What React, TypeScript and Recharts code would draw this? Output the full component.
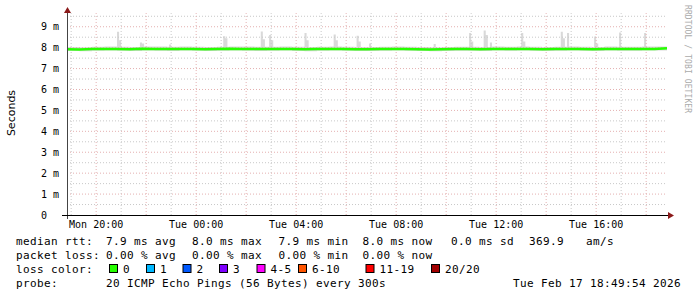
import { ComposedChart, Area, Line, XAxis, YAxis, ReferenceLine } from 'recharts'

// minutes since Mon 18:50, 30 min steps (0..1440)
const medianRtt = [
  7.92, 7.91, 7.93, 7.94, 7.93, 7.92, 7.95, 7.94, 7.93, 7.94, 7.93, 7.92, 7.93,
  7.95, 7.94, 7.93, 7.93, 7.94, 7.93, 7.92, 7.93, 7.94, 7.93, 7.92, 7.92, 7.93,
  7.94, 7.93, 7.92, 7.91, 7.92, 7.93, 7.93, 7.92, 7.94, 7.93, 7.94, 7.93, 7.92,
  7.93, 7.94, 7.93, 7.92, 7.94, 7.93, 7.93, 7.94, 7.94, 7.97,
]
const smokeLow = [
  7.84, 7.83, 7.85, 7.86, 7.85, 7.84, 7.86, 7.85, 7.84, 7.86, 7.85, 7.84, 7.85,
  7.86, 7.85, 7.84, 7.85, 7.86, 7.84, 7.83, 7.85, 7.86, 7.85, 7.84, 7.84, 7.85,
  7.86, 7.85, 7.84, 7.83, 7.84, 7.85, 7.85, 7.84, 7.86, 7.85, 7.86, 7.85, 7.84,
  7.85, 7.86, 7.85, 7.84, 7.86, 7.85, 7.85, 7.86, 7.86, 7.88,
]
const smokeHigh = [
  8.03, 8.02, 8.04, 8.05, 8.04, 8.03, 8.06, 8.05, 8.04, 8.05, 8.04, 8.03, 8.04,
  8.06, 8.05, 8.04, 8.04, 8.05, 8.04, 8.03, 8.04, 8.05, 8.04, 8.03, 8.03, 8.04,
  8.05, 8.04, 8.03, 8.02, 8.03, 8.04, 8.04, 8.03, 8.05, 8.04, 8.05, 8.04, 8.03,
  8.04, 8.05, 8.04, 8.03, 8.05, 8.04, 8.04, 8.05, 8.05, 8.08,
]
// single 5-minute smoke spikes (minute since start, top value in ms)
const spikeTimes = [
  120, 125, 175, 180, 245, 375, 380, 465, 470, 485, 490, 570, 575, 640, 645,
  695, 700, 725, 880, 965, 970, 1000, 1005, 1015, 1090, 1095, 1185, 1190, 1200,
  1265, 1270, 1325, 1385, 1425,
]
const spikeTops = [
  8.76, 8.35, 8.25, 8.2, 8.15, 8.55, 8.45, 8.77, 8.4, 8.6, 8.35, 8.7, 8.35, 8.63, 8.35,
  8.57, 8.3, 8.2, 8.17, 8.7, 8.3, 8.82, 8.6, 8.25, 8.7, 8.3, 8.76, 8.45, 8.7,
  8.53, 8.2, 8.72, 8.7, 8.06,
]
const timeTicks = [70, 310, 550, 790, 1030, 1270]
const timeLabels = ['Mon 20:00', 'Tue 00:00', 'Tue 04:00', 'Tue 08:00', 'Tue 12:00', 'Tue 16:00']
const rttTicks = [0, 1, 2, 3, 4, 5, 6, 7, 8, 9]

const lossLabels = ['0', '1', '2', '3', '4-5', '6-10', '11-19', '20/20']
const lossColors = ['#26ff00', '#00b8ff', '#0059ff', '#7e00ff', '#ff00ff', '#ff5500', '#ff0000', '#a10000']

const spikeMap = new Map(spikeTimes.map((t, i) => [t, spikeTops[i]]))
const rows: { t: number; smoke: [number, number]; rtt?: number }[] = []
for (let t = 0; t <= 1440; t += 5) {
  const k = Math.floor(t / 30)
  const hi = spikeMap.get(t) ?? smokeHigh[k]
  rows.push({ t, smoke: [smokeLow[k], hi], rtt: t % 30 === 0 ? medianRtt[k] : undefined })
}

const minorY = Array.from({ length: 19 }, (_, i) => (i + 1) * 0.5).filter((v) => v % 1 !== 0)
const majorY = rttTicks.slice(1)
const hourLines = Array.from({ length: 24 }, (_, i) => 10 + i * 60)

const mono = '"DejaVu Sans Mono", monospace'
const W = 697
const H = 297

function YTick({ x, y, payload }: any) {
  const v = payload.value
  return (
    <text x={x - 19} y={y + 3.5} fontFamily={mono} fontSize={10} fill="#000">
      {v === 0 ? '0' : `${v} m`}
    </text>
  )
}

function XTick({ x, y, payload }: any) {
  const i = timeTicks.indexOf(payload.value)
  return (
    <text x={x} y={y + 13} textAnchor="middle" fontFamily={mono} fontSize={10} fill="#000">
      {timeLabels[i]}
    </text>
  )
}

const legendText = { fontFamily: mono, fontSize: 11, letterSpacing: 0.38, fill: '#000' }

export default function App() {
  return (
    <div style={{ position: 'absolute', left: 0, top: 0, width: W, height: H, background: '#fff' }}>
      <ComposedChart width={W} height={H} data={rows} margin={{ top: 10, right: 30, bottom: 66, left: 0 }}>
        <XAxis
          type="number"
          dataKey="t"
          domain={[0, 1440]}
          ticks={timeTicks}
          tick={<XTick />}
          tickLine={false}
          tickSize={0}
          tickMargin={0}
          height={16}
          axisLine={false}
          interval={0}
        />
        <YAxis
          type="number"
          domain={[0, 9.8]}
          ticks={rttTicks}
          tick={<YTick />}
          tickLine={false}
          tickSize={0}
          tickMargin={7}
          width={67}
          axisLine={false}
          interval={0}
          allowDataOverflow
        />
        {minorY.map((v) => (
          <ReferenceLine key={'my' + v} y={v} stroke="#c8c8c8" strokeDasharray="1 2" />
        ))}
        {hourLines.map((t, i) => (
          <ReferenceLine
            key={'h' + t}
            segment={[
              { x: t, y: 0 },
              { x: t, y: 9.65 },
            ]}
            stroke={i % 2 === 1 ? '#e4b0b0' : '#c8c8c8'}
            strokeDasharray="1 2"
          />
        ))}
        {majorY.map((v) => (
          <ReferenceLine key={'My' + v} y={v} stroke="#e4b0b0" strokeDasharray="1 2" />
        ))}
        <Area
          dataKey="smoke"
          type="stepAfter"
          fill="#d9d9d9"
          fillOpacity={1}
          stroke="none"
          isAnimationActive={false}
        />
        <Line
          dataKey="rtt"
          type="linear"
          stroke="#26ff00"
          strokeWidth={2.5}
          dot={false}
          connectNulls
          isAnimationActive={false}
        />
      </ComposedChart>
      <svg width={W} height={H} style={{ position: 'absolute', left: 0, top: 0, pointerEvents: 'none' }}>
        {/* axes with arrow heads */}
        <line x1={67.5} y1={219} x2={67.5} y2={12} stroke="#444" />
        <line x1={62} y1={215.5} x2={669} y2={215.5} stroke="#000" />
        <polygon points="64,13 67.5,7 71,13" fill="#8b1a1a" />
        <polygon points="668,212 674,215.5 668,219" fill="#8b1a1a" />
        <text
          transform="rotate(-90)"
          x={-113}
          y={15}
          textAnchor="middle"
          fontFamily='"DejaVu Sans", sans-serif'
          fontSize={11}
          fill="#000"
        >
          Seconds
        </text>
        <text
          transform="rotate(90 685 5)"
          x={685}
          y={5}
          fontFamily={mono}
          fontSize={8}
          letterSpacing={0.1}
          fill="#aaaaaa"
        >
          RRDTOOL / TOBI OETIKER
        </text>
        <g {...legendText}>
          <text x={16} y={245}>median rtt:</text>
          <text x={106} y={245}>7.9 ms avg</text>
          <text x={192} y={245}>8.0 ms max</text>
          <text x={278.5} y={245}>7.9 ms min</text>
          <text x={362.5} y={245}>8.0 ms now</text>
          <text x={451} y={245}>0.0 ms sd</text>
          <text x={529} y={245}>369.9</text>
          <text x={586} y={245}>am/s</text>

          <text x={16} y={259}>packet loss:</text>
          <text x={106} y={259}>0.00 % avg</text>
          <text x={192} y={259}>0.00 % max</text>
          <text x={278.5} y={259}>0.00 % min</text>
          <text x={362.5} y={259}>0.00 % now</text>

          <text x={16} y={273}>loss color:</text>
          {lossLabels.map((l, i) => {
            const sx = [109, 146, 182.5, 219, 256.5, 298, 365.5, 431][i]
            return (
              <g key={l}>
                <rect x={sx + 0.5} y={264.5} width={8} height={8} fill={lossColors[i]} stroke="#000" strokeWidth={1} />
                <text x={sx + 14} y={273}>{l}</text>
              </g>
            )
          })}

          <text x={16} y={287}>probe:</text>
          <text x={106} y={287}>20 ICMP Echo Pings (56 Bytes) every 300s</text>
          <text x={681} y={287} textAnchor="end">Tue Feb 17 18:49:54 2026</text>
        </g>
      </svg>
    </div>
  )
}
